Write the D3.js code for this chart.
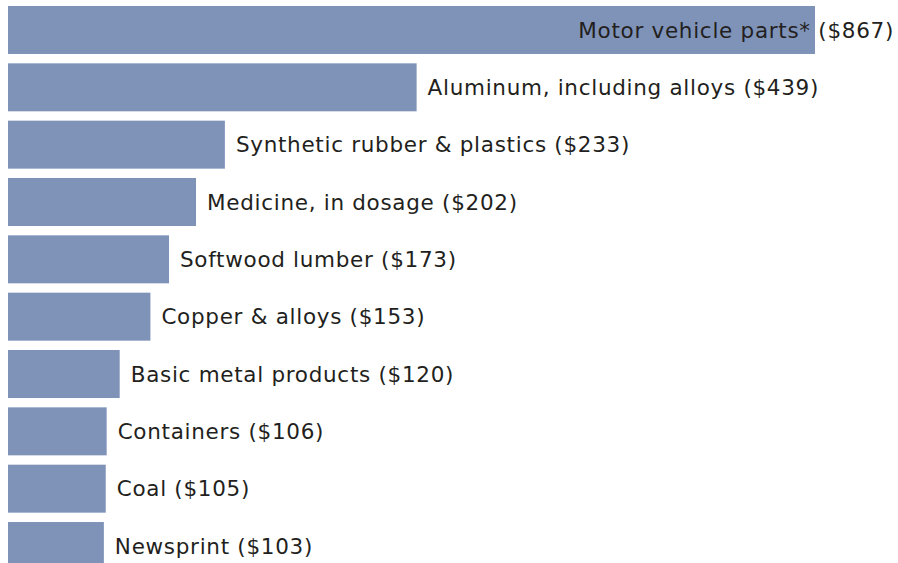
<!DOCTYPE html>
<html>
<head>
<meta charset="utf-8">
<script src="https://cdn.jsdelivr.net/npm/d3@7"></script>
<style>
	body { margin: 0; background: #fff; }
	text { font-family: 'DejaVu Sans', sans-serif; letter-spacing: 0.7px; }
</style>
</head>
<body>
<div id="chart"></div>
<script>
const categories = [
	'Motor vehicle parts*',
	'Aluminum, including alloys',
	'Synthetic rubber & plastics',
	'Medicine, in dosage',
	'Softwood lumber',
	'Copper & alloys',
	'Basic metal products',
	'Containers',
	'Coal',
	'Newsprint'
]
const values = [867, 439, 233, 202, 173, 153, 120, 106, 105, 103]

const width = 898
const height = 563
const svg = d3.select('#chart').append('svg').attr('width', width).attr('height', height)

const x = d3.scaleLinear().domain([0, 867]).range([8, 815])
const y = d3.scaleBand().domain(categories).range([6, 570]).paddingInner(0.163).paddingOuter(0)

const data = categories.map((c, i) => ({ name: c, value: values[i] }))

svg.selectAll('rect')
	.data(data)
	.enter()
	.append('rect')
	.attr('x', x(0))
	.attr('y', (d) => y(d.name))
	.attr('width', (d) => x(d.value) - x(0))
	.attr('height', y.bandwidth())
	.attr('fill', '#7f93b9')

// labels sit right of the bar, unless they would run off the edge
svg.selectAll('text.label')
	.data(data)
	.enter()
	.append('text')
	.attr('class', 'label')
	.attr('y', (d) => y(d.name) + y.bandwidth() / 2)
	.attr('dy', '0.36em')
	.attr('font-size', '21.5px')
	.attr('fill', '#231f20')
	.text((d) => `${d.name} ($${d.value})`)
	.each(function (d) {
		const w = this.getComputedTextLength()
		const x0 = x(d.value) + 11
		if (x0 + w > width - 4) {
			d3.select(this).attr('x', width - 4).attr('text-anchor', 'end')
		} else {
			d3.select(this).attr('x', x0)
		}
	})
</script>
</body>
</html>
